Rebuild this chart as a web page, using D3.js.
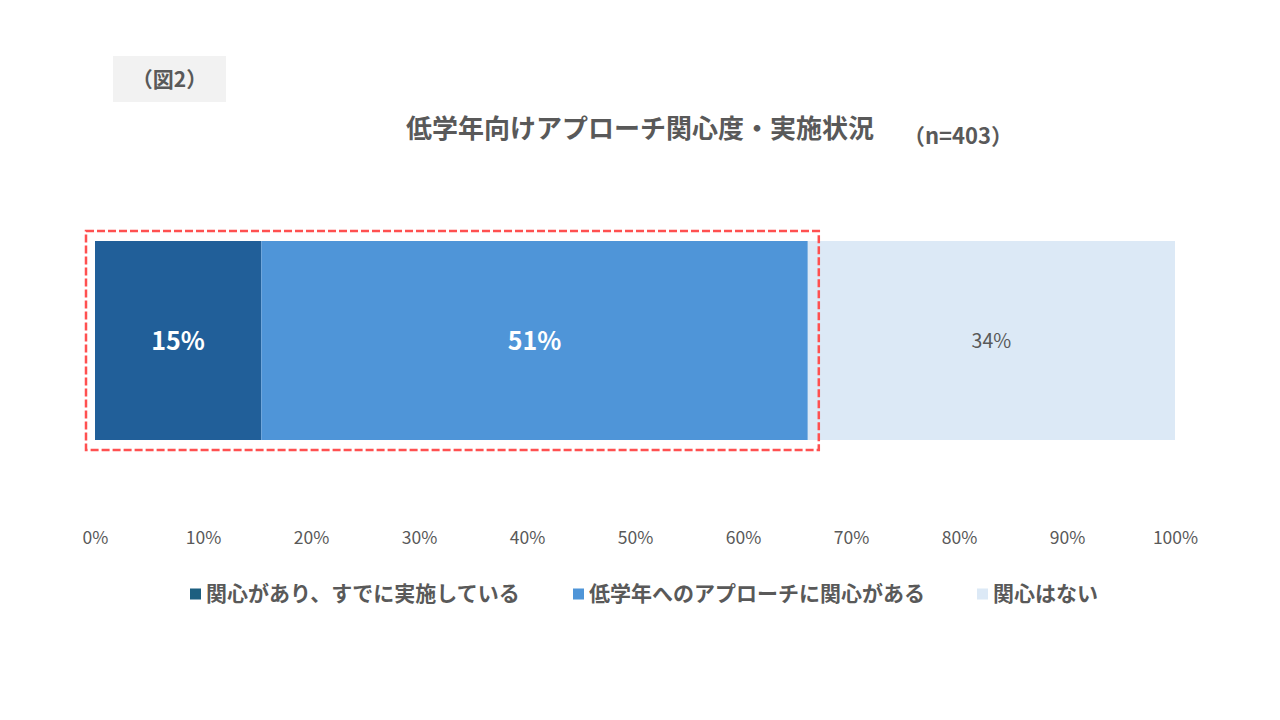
<!DOCTYPE html>
<html lang="ja">
<head>
<meta charset="UTF-8">
<title>低学年向けアプローチ関心度・実施状況</title>
<script src="https://d3js.org/d3.v7.min.js"></script>
<style>
  body { margin: 0; background: #fff; }
  text { font-family: "Noto Sans CJK JP", "Noto Sans", sans-serif; }
</style>
</head>
<body>
<svg id="chart" width="1280" height="720"></svg>
<script>
const categories = ["関心があり、すでに実施している", "低学年へのアプローチに関心がある", "関心はない"];
const values = [15.4, 50.6, 34.0];
const valueLabels = ["15%", "51%", "34%"];
const tickValues = [0, 10, 20, 30, 40, 50, 60, 70, 80, 90, 100];
const barColors = ["#215f99", "#4f95d8", "#dce9f6"];
const legendColors = ["#1c5f80", "#4f95d8", "#dce9f6"];

const svg = d3.select("#chart");
const textColor = "#595959";

// tag box
svg.append("rect").attr("x", 113).attr("y", 56).attr("width", 113).attr("height", 46)
  .attr("fill", "#f2f2f2");
svg.append("text").attr("x", 169.5).attr("y", 87).attr("text-anchor", "middle")
  .attr("font-size", 21).attr("font-weight", "bold").attr("fill", textColor).text("（図2）");

// title
svg.append("text").attr("x", 640).attr("y", 138).attr("text-anchor", "middle")
  .attr("font-size", 26).attr("font-weight", "bold").attr("fill", textColor)
  .text("低学年向けアプローチ関心度・実施状況");
svg.append("text").attr("x", 958).attr("y", 144).attr("text-anchor", "middle")
  .attr("font-size", 22).attr("font-weight", "bold").attr("fill", textColor)
  .text("（n=403）");

const x = d3.scaleLinear().domain([0, 100]).range([95, 1175]);
const barTop = 241, barH = 199;

let acc = 0;
const segs = values.map((v, i) => {
  const s = { i, start: acc, end: acc + v, v };
  acc += v;
  return s;
});

svg.selectAll("rect.seg").data(segs).enter().append("rect")
  .attr("class", "seg")
  .attr("x", d => x(d.start))
  .attr("y", barTop)
  .attr("width", d => x(d.end) - x(d.start))
  .attr("height", barH)
  .attr("fill", d => barColors[d.i]);

svg.selectAll("text.val").data(segs).enter().append("text")
  .attr("class", "val")
  .attr("x", d => (x(d.start) + x(d.end)) / 2)
  .attr("y", barTop + barH / 2 + 1)
  .attr("dy", "0.35em")
  .attr("text-anchor", "middle")
  .attr("font-size", d => d.i < 2 ? 25 : 19.5)
  .attr("font-weight", d => d.i < 2 ? "bold" : "normal")
  .attr("fill", d => d.i < 2 ? "#ffffff" : textColor)
  .text(d => valueLabels[d.i]);

// dashed highlight around first two segments
svg.append("rect")
  .attr("x", x(0) - 9)
  .attr("y", barTop - 10)
  .attr("width", x(segs[1].end) - x(0) + 20)
  .attr("height", barH + 20)
  .attr("fill", "none")
  .attr("stroke", "#ff5050")
  .attr("stroke-width", 2.5)
  .attr("stroke-dasharray", "8,3");

// axis
const axis = svg.append("g").attr("transform", "translate(0,532)")
  .call(d3.axisBottom(x).tickValues(tickValues).tickFormat(d => d + "%").tickSize(0).tickPadding(0));
axis.select(".domain").remove();
axis.selectAll("text").attr("font-size", 17.5).attr("fill", textColor)
  .style("font-family", "'Noto Sans CJK JP', sans-serif");

// legend
const legendX = [190, 573, 977];
const lg = svg.selectAll("g.leg").data(categories).enter().append("g")
  .attr("class", "leg")
  .attr("transform", (d, i) => `translate(${legendX[i]},594)`);
lg.append("rect").attr("x", 0).attr("y", -5.5).attr("width", 11).attr("height", 11)
  .attr("fill", (d, i) => legendColors[i]);
lg.append("text").attr("x", 16).attr("dy", "0.35em")
  .attr("font-size", 21).attr("font-weight", "bold").attr("fill", textColor)
  .text(d => d);
</script>
</body>
</html>
